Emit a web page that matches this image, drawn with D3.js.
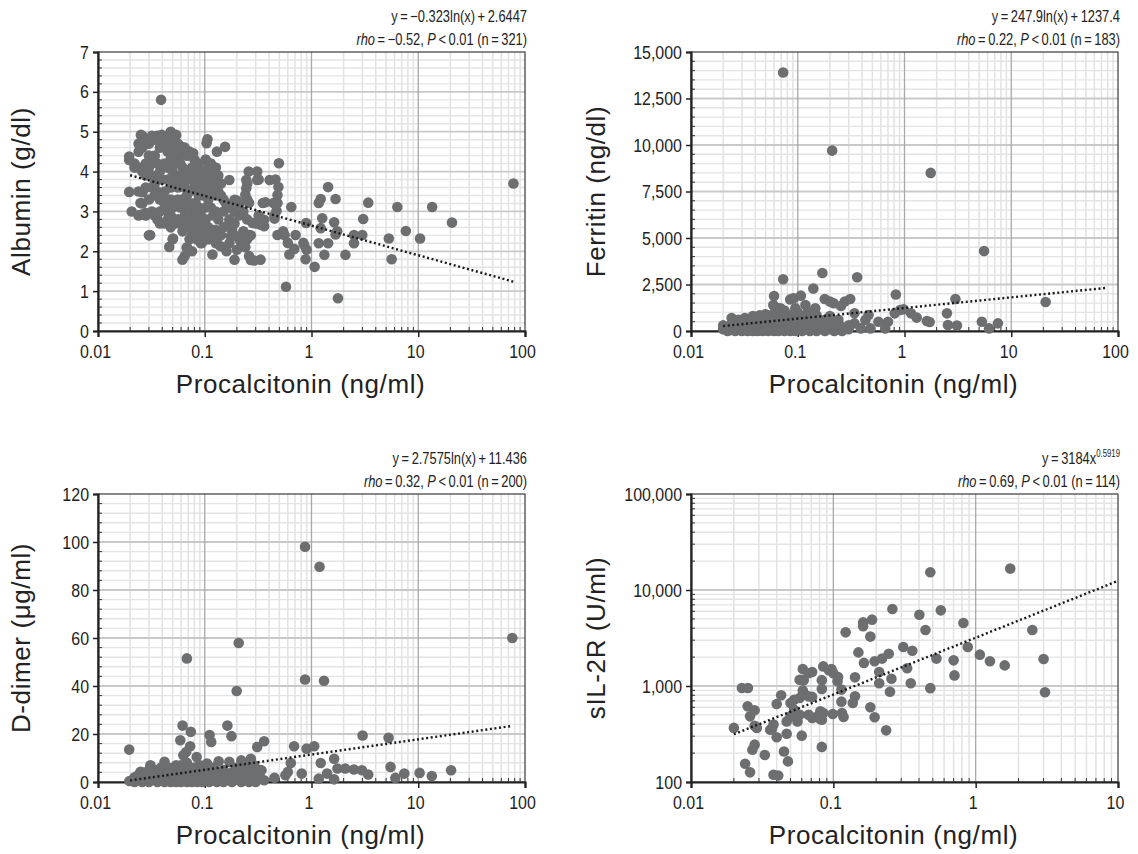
<!DOCTYPE html>
<html><head><meta charset="utf-8">
<script src="https://cdn.jsdelivr.net/npm/d3@7"></script>
<style>
body{margin:0;background:#fff;}
svg text{font-family:"Liberation Sans",Arial,sans-serif;fill:#222;}
</style></head><body>
<svg id="c" width="1138" height="854"></svg>
<script>
// ---------------- DATA ----------------
const xTicksFull = [0.01, 0.1, 1, 10, 100];
const xTicksShort = [0.01, 0.1, 1, 10];
const albuminYTicks = [0, 1, 2, 3, 4, 5, 6, 7];
const ferritinYTicks = [0, 2500, 5000, 7500, 10000, 12500, 15000];
const ddimerYTicks = [0, 20, 40, 60, 80, 100, 120];
const sil2rYTicks = [100, 1000, 10000, 100000];

const albuminPoints = [
[0.039,5.8],[78,3.7],[20.7,2.72],[13.5,3.11],[10.4,2.32],[7.65,2.51],[6.37,3.11],[5.63,1.8],[5.3,2.32],[3.4,3.22],
[3.05,2.81],[2.99,2.41],[2.5,2.41],[2.5,2.2],[2.08,1.91],[1.77,0.82],[1.68,3.31],[1.63,2.73],[1.68,2.42],[1.43,2.2],
[1.43,3.61],[1.32,1.91],[1.26,2.83],[1.22,2.58],[1.17,2.2],[1.22,3.31],[1.17,3.21],[1.07,1.61],[0.89,2.71],[0.88,1.8],
[0.84,2.21],[0.9,2.04],[0.71,2.41],[0.69,2.06],[0.647,3.11],[0.62,1.92],[0.577,1.11],[0.6,2.21],[0.542,2.5],[0.495,4.21],
[0.49,3.61],[0.48,3.41],[0.48,3.21],[0.47,3.02],[0.48,2.41],[0.45,2.82],[0.44,3.21],[0.405,3.79],[0.36,2.79],[0.35,3.21],
[0.333,1.79],[0.31,3.79],[0.31,4.0],[0.258,4.0],[0.245,3.79],[0.245,3.58],[0.26,3.21],[0.28,2.71],[0.27,1.78],[0.26,1.88],
[0.26,2.41],[0.24,3.42],[0.33,2.67],[0.32,2.79],[0.36,2.63],[0.23,2.29],[0.22,2.21],[0.2,2.04],[0.19,1.79],[0.19,3.29],
[0.18,2.54],[0.175,2.38],[0.16,2.63],[0.157,3.21],[0.17,3.79],[0.155,4.62],[0.13,4.5],[0.118,1.92],[0.16,2.0],[0.14,2.13],
[0.13,2.33],[0.125,2.54],[0.106,4.81],[0.104,4.71],[0.0618,1.79],[0.065,1.88],[0.068,2.08],[0.076,2.0],[0.0465,2.11],[0.0505,2.32],
[0.0308,2.41],[0.0257,2.92],[0.0207,3.0],[0.0196,3.49],[0.0196,4.38],[0.0196,4.29],[0.026,3.48],[0.025,3.21],[0.028,2.96],[0.0252,4.92],
[0.039,4.68],[0.0395,4.92],[0.048,4.98],[0.054,4.92],[0.06,4.63],[0.078,4.46],[0.085,4.12],[0.088,3.62],[0.092,3.79],[0.082,3.21],
[0.081,2.79],[0.085,2.54],[0.094,2.21],[0.094,2.46],[0.34,2.72],[0.37,3.23],[0.32,3.8],[0.29,1.77],[0.25,2.3],[0.27,2.4],
[0.24,2.1],[0.2,3.27],[0.46,3.8],[0.45,2.9],[0.855,2.15],[0.56,2.4],[1.74,2.5],
[0.022,4.2],[0.022,4.1],
[0.024,4.5],[0.024,4.7],[0.024,4.1],[0.024,3.5],[0.024,2.9],
[0.026,4.9],[0.026,4.6],[0.026,4.0],[0.026,3.5],[0.026,3.2],
[0.028,4.8],[0.028,4.2],[0.028,3.9],[0.028,3.6],[0.028,2.9],
[0.03,4.7],[0.03,4.4],[0.03,4.1],[0.03,3.3],[0.03,2.4],
[0.032,4.9],[0.032,4.2],[0.032,3.9],[0.032,3.6],[0.032,3.0],
[0.034,4.8],[0.034,4.4],[0.034,3.7],[0.034,3.4],[0.034,2.9],
[0.036,4.9],[0.036,4.2],[0.036,3.9],[0.036,3.5],[0.036,2.8],
[0.038,4.6],[0.038,4.0],[0.038,3.3],[0.038,3.0],[0.038,2.7],
[0.04,4.9],[0.04,4.1],[0.04,3.8],[0.04,3.4],
[0.042,4.7],[0.042,4.2],[0.042,3.5],[0.042,3.2],[0.042,2.7],
[0.045,4.9],[0.045,4.5],[0.045,4.1],[0.045,3.8],[0.045,3.0],[0.045,2.8],
[0.048,5.0],[0.048,4.6],[0.048,4.3],[0.048,3.6],[0.048,3.3],[0.048,2.9],[0.048,2.6],
[0.05,4.8],[0.05,4.0],[0.05,3.7],[0.05,3.1],[0.05,2.8],[0.05,2.3],
[0.053,4.9],[0.053,4.5],[0.053,4.2],[0.053,3.8],[0.053,3.2],[0.053,2.7],
[0.056,4.7],[0.056,4.3],[0.056,3.6],[0.056,3.3],[0.056,2.8],
[0.059,4.6],[0.059,4.2],[0.059,3.9],[0.059,3.1],[0.059,2.7],
[0.062,4.5],[0.062,4.1],[0.062,3.7],[0.062,3.3],[0.062,2.5],
[0.065,4.6],[0.065,3.9],[0.065,3.6],[0.065,3.2],[0.065,2.9],
[0.068,4.4],[0.068,4.0],[0.068,3.4],[0.068,3.1],[0.068,2.8],[0.068,2.1],
[0.072,4.5],[0.072,3.8],[0.072,3.5],[0.072,3.0],[0.072,2.6],[0.072,2.3],
[0.076,4.1],[0.076,3.8],[0.076,3.2],[0.076,2.7],[0.076,2.4],
[0.08,4.3],[0.08,3.9],[0.08,3.6],[0.08,2.9],[0.08,2.6],
[0.084,4.0],[0.084,3.7],[0.084,3.0],[0.084,2.7],[0.084,2.3],
[0.088,4.2],[0.088,3.9],[0.088,3.4],[0.088,3.1],[0.088,2.4],
[0.092,3.8],[0.092,3.5],[0.092,2.9],[0.092,2.6],[0.092,2.2],
[0.097,4.0],[0.097,3.7],[0.097,3.4],[0.097,2.7],[0.097,2.3],
[0.102,4.3],[0.102,3.8],[0.102,3.1],[0.102,2.8],[0.102,2.5],
[0.108,4.1],[0.108,3.6],[0.108,3.3],[0.108,2.6],[0.108,2.3],
[0.114,4.2],[0.114,3.9],[0.114,3.5],[0.114,3.1],[0.114,2.4],
[0.12,4.0],[0.12,3.7],[0.12,2.9],[0.12,2.5],
[0.127,4.1],[0.127,3.8],[0.127,3.4],[0.127,3.0],[0.127,2.2],
[0.134,3.9],[0.134,3.5],[0.134,2.8],
[0.142,3.7],[0.142,3.4],[0.142,2.4],
[0.15,3.3],[0.15,3.0],[0.15,2.6],
[0.17,3.1],[0.17,2.8],[0.17,2.2],
[0.19,3.0],[0.19,2.7],[0.19,2.4],
[0.21,3.2],[0.21,2.9],[0.21,2.3],
[0.23,3.0],[0.23,2.5],
[0.25,3.7],[0.25,3.3],[0.25,2.8],
[0.3,2.7],[0.32,2.9],[0.34,2.75]
];

const ferritinPoints = [
[0.073,13900],[0.21,9700],[1.76,8500],[5.56,4300],[21,1560],[0.073,2780],[0.17,3120],[0.36,2890],[0.14,2280],[0.06,1880],
[0.107,1900],[0.0915,1760],[0.118,1400],[0.179,1720],[0.2,1580],[0.217,1490],[0.276,1580],[0.31,1720],[0.254,1345],[0.146,1220],
[0.059,1400],[0.069,1220],[0.095,1220],[0.34,950],[0.83,1960],[3.0,1720],[2.5,950],[2.55,320],[3.1,290],[5.3,500],
[6.2,140],[7.5,410],[1.62,540],[1.72,480],[1.15,950],[1.3,720],[0.98,1170],[0.81,950],[0.91,1130],[0.7,500],
[0.66,140],[0.57,500],[0.48,140],[0.46,860],[0.43,590],[0.39,140],[0.34,410],[0.29,140],[0.245,320],
[0.02,100],[0.02,300],[0.022,0],[0.022,200],[0.024,50],[0.024,400],[0.024,700],[0.026,0],[0.026,250],[0.026,500],
[0.028,100],[0.028,600],[0.03,0],[0.03,300],[0.032,150],[0.032,450],[0.032,700],[0.034,0],[0.034,250],
[0.036,100],[0.036,400],[0.036,650],[0.038,0],[0.038,300],[0.038,800],[0.04,150],[0.04,500],
[0.042,0],[0.042,350],[0.042,750],[0.044,100],[0.044,600],[0.044,850],[0.047,0],[0.047,250],[0.047,500],
[0.05,150],[0.05,400],[0.05,750],[0.05,900],[0.053,0],[0.053,300],[0.053,600],[0.056,100],[0.056,450],[0.056,850],
[0.06,0],[0.06,250],[0.06,700],[0.06,1350],[0.063,150],[0.063,500],[0.063,950],[0.066,0],[0.066,350],[0.066,650],[0.066,1200],
[0.07,100],[0.07,550],[0.07,850],[0.075,0],[0.075,300],[0.075,700],[0.075,1100],[0.08,150],[0.08,450],[0.08,900],
[0.085,0],[0.085,350],[0.085,650],[0.085,1700],[0.09,100],[0.09,500],[0.09,800],[0.095,0],[0.095,250],[0.095,600],
[0.1,150],[0.1,450],[0.1,750],[0.1,1000],[0.11,0],[0.11,300],[0.11,600],[0.12,100],[0.12,400],[0.12,900],
[0.13,0],[0.13,250],[0.13,550],[0.13,1000],[0.14,150],[0.14,700],[0.15,0],[0.15,400],[0.15,850],[0.16,100],[0.16,300],
[0.18,0],[0.18,200],[0.18,600],[0.2,100],[0.2,400],[0.2,800],[0.22,0],[0.22,250],[0.24,100],[0.24,600],[0.26,0],[0.26,200],
[0.3,100],[0.3,300]
];

const ddimerPoints = [
[0.87,98],[1.19,89.7],[76,60],[0.208,57.9],[0.068,51.5],[0.87,42.7],[1.31,42.2],[0.199,37.9],[0.062,23.5],[0.163,23.5],
[0.074,20.9],[0.111,19.6],[0.178,19.1],[0.059,17.4],[0.115,16.7],[0.36,17.0],[0.31,14.6],[0.073,14.9],[0.067,12.5],[0.063,11.1],
[0.0196,13.5],[3.01,19.4],[5.27,18.4],[0.687,14.9],[0.9,13.9],[1.06,14.9],[0.64,7.9],[1.22,7.9],[1.63,9.7],[1.75,5.6],
[2.07,5.6],[2.5,5.2],[2.97,4.9],[3.4,3.1],[5.5,6.3],[6.1,1.7],[7.4,3.5],[10.3,3.8],[13.4,2.5],[20.3,4.9],
[0.81,3.5],[1.17,1.4],[1.4,3.5],[1.63,1.1],[0.57,2.8],[0.6,4.2],[0.45,1.8],[0.36,0.7],[0.34,4.9],[0.29,7.0],
[0.27,9.7],[0.22,9.0],[0.22,5.6],[0.17,8.4],[0.135,8.6],[0.105,7.7],[0.084,10.4],[0.042,8.4],[0.031,7.0],[0.025,4.2],[0.0197,0.4],
[0.022,0],[0.022,2],[0.024,1],[0.024,3],[0.026,0],[0.026,2],[0.026,4],[0.028,1],[0.028,3],[0.03,0],[0.03,2],[0.03,5],
[0.033,1],[0.033,3],[0.036,0],[0.036,2],[0.036,5],[0.039,1],[0.039,3],[0.039,6],[0.042,0],[0.042,2],[0.042,4],
[0.045,1],[0.045,3],[0.045,6],[0.048,0],[0.048,2],[0.048,5],[0.051,1],[0.051,3],[0.051,6],[0.054,0],[0.054,2],[0.054,4],[0.054,7],
[0.057,1],[0.057,3],[0.057,5],[0.06,0],[0.06,2],[0.06,4],[0.06,7],[0.064,1],[0.064,3],[0.064,5],[0.068,0],[0.068,2],[0.068,4],[0.068,8],
[0.072,1],[0.072,3],[0.072,6],[0.076,0],[0.076,2],[0.076,4],[0.08,1],[0.08,3],[0.08,6],[0.085,0],[0.085,2],[0.085,4],
[0.09,1],[0.09,3],[0.09,7],[0.095,0],[0.095,2],[0.095,5],[0.1,1],[0.1,3],[0.1,6],[0.11,0],[0.11,2],[0.11,4],
[0.12,1],[0.12,3],[0.12,6],[0.13,0],[0.13,2],[0.13,4],[0.14,1],[0.14,3],[0.15,0],[0.15,2],[0.15,5],[0.16,1],[0.16,3],
[0.18,0],[0.18,2],[0.18,4],[0.2,1],[0.2,3],[0.2,6],[0.22,0],[0.22,2],[0.24,1],[0.24,4],[0.24,7],[0.26,0],[0.26,3],[0.26,5],
[0.28,2],[0.28,6],[0.3,0],[0.3,4],[0.33,2],[0.33,5]
];

const sil2rPoints = [
[0.48,15300],[1.75,16700],[0.26,6340],[0.569,6140],[0.402,5530],[0.82,4530],[0.187,4910],[0.162,4600],[0.162,4190],[0.122,3620],
[0.444,3830],[0.182,3270],[2.5,3830],[0.31,2550],[0.359,2330],[0.88,2550],[1.07,2120],[1.26,1810],[1.6,1640],[3.0,1910],
[3.07,860],[0.15,2240],[0.245,2170],[0.22,1930],[0.195,1810],[0.164,1740],[0.53,1930],[0.70,1850],[0.71,1290],[0.33,1530],
[0.21,1400],[0.256,1190],[0.21,1070],[0.35,1070],[0.48,950],[0.25,870],[0.142,1230],[0.142,780],[0.137,665],[0.114,687],
[0.182,600],[0.195,472],[0.235,345],[0.115,524],[0.118,475],[0.099,511],[0.108,1240],[0.107,1120],[0.114,917],[0.097,1500],
[0.093,1460],[0.085,1600],[0.1,1360],[0.083,1150],[0.083,930],[0.071,1400],[0.067,1360],[0.061,1500],[0.058,1160],[0.062,1150],
[0.061,900],[0.063,810],[0.067,780],[0.071,770],[0.058,750],[0.053,720],[0.05,665],[0.043,800],[0.04,650],[0.053,567],
[0.05,483],[0.047,428],[0.056,428],[0.058,502],[0.067,502],[0.071,464],[0.076,475],[0.081,545],[0.085,524],[0.081,453],
[0.083,446],[0.06,304],[0.083,232],[0.047,318],[0.038,396],[0.037,357],[0.036,351],[0.04,292],[0.029,366],[0.028,386],
[0.026,483],[0.028,558],[0.025,614],[0.02,366],[0.0228,953],[0.0251,953],[0.028,245],[0.027,217],[0.033,191],[0.045,208],
[0.048,164],[0.024,155],[0.026,126],[0.038,119],[0.041,117]
];

// trend-line equations printed in the figure: [form, coefficient a, coefficient b, x start, x end]
const albuminFit = ["ln", -0.323, 2.6447, 0.02, 78];
const ferritinFit = ["ln", 247.9, 1237.4, 0.02, 80];
const ddimerFit = ["ln", 2.7575, 11.436, 0.02, 76];
const sil2rFit = ["pow", 3184, 0.5919, 0.02, 10];

const albuminNotes = ["y\u2009=\u2009\u22120.323ln(x)\u2009+\u20092.6447", "\u2009=\u2009\u22120.52, ", "\u2009<\u20090.01 (n\u2009=\u2009321)"];
const ferritinNotes = ["y\u2009=\u2009247.9ln(x)\u2009+\u20091237.4", "\u2009=\u20090.22, ", "\u2009<\u20090.01 (n\u2009=\u2009183)"];
const ddimerNotes = ["y\u2009=\u20092.7575ln(x)\u2009+\u200911.436", "\u2009=\u20090.32, ", "\u2009<\u20090.01 (n\u2009=\u2009200)"];
const sil2rNotes = ["y\u2009=\u20093184x", "\u2009=\u20090.69, ", "\u2009<\u20090.01 (n\u2009=\u2009114)", "0.5919"];

// ---------------- DRAW ----------------
const svg = d3.select("#c");
const panels = [
  {pts: albuminPoints, box: [98, 52, 525, 331], xt: xTicksFull, ylog: false, yt: albuminYTicks, ym: 0.2, fmt: d3.format("d"), title: "Albumin (g/dl)", fit: albuminFit, notes: albuminNotes, tx: 30},
  {pts: ferritinPoints, box: [691, 52, 1118, 331], xt: xTicksFull, ylog: false, yt: ferritinYTicks, ym: 500, fmt: d3.format(","), title: "Ferritin (ng/dl)", fit: ferritinFit, notes: ferritinNotes, tx: 605},
  {pts: ddimerPoints, box: [98, 494, 525, 782], xt: xTicksFull, ylog: false, yt: ddimerYTicks, ym: 4, fmt: d3.format("d"), title: "D-dimer (\u03bcg/ml)", fit: ddimerFit, notes: ddimerNotes, tx: 30},
  {pts: sil2rPoints, box: [691, 494, 1118, 782], xt: xTicksShort, ylog: true, yt: sil2rYTicks, ym: null, fmt: d3.format(","), title: "sIL-2R (U/ml)", fit: sil2rFit, notes: sil2rNotes, tx: 605}
];

function logMinors(ticks){
  const out = [];
  for (let i = 0; i < ticks.length - 1; i++) for (let k = 2; k <= 9; k++) out.push(ticks[i] * k);
  return out;
}
// condensed look for tick labels (no narrow font installed)
function narrow(sel, f){
  sel.each(function(){
    const w = this.getComputedTextLength();
    this.setAttribute("textLength", (w * f).toFixed(2));
    this.setAttribute("lengthAdjust", "spacingAndGlyphs");
  });
}

panels.forEach(p => {
  const [l, t, r, b] = p.box;
  const x = d3.scaleLog().domain([p.xt[0], p.xt[p.xt.length - 1]]).range([l, r]);
  const y = (p.ylog ? d3.scaleLog() : d3.scaleLinear()).domain([p.yt[0], p.yt[p.yt.length - 1]]).range([b, t]);
  const g = svg.append("g");

  const xMin = logMinors(p.xt);
  const yMin = p.ylog ? logMinors(p.yt) : d3.range(p.yt[0], p.yt[p.yt.length - 1] + 1e-9, p.ym).filter(v => !p.yt.some(tk => Math.abs(tk - v) < 1e-6));

  g.selectAll(".vmin").data(xMin).join("line").attr("x1", d => x(d)).attr("x2", d => x(d)).attr("y1", t).attr("y2", b)
    .attr("stroke", "#e2e2e2").attr("stroke-width", 1.5);
  g.selectAll(".hmin").data(yMin).join("line").attr("y1", d => y(d)).attr("y2", d => y(d)).attr("x1", l).attr("x2", r)
    .attr("stroke", "#e4e4e4").attr("stroke-width", 1.4);
  g.selectAll(".hmaj").data(p.yt.slice(1, -1)).join("line").attr("y1", d => y(d)).attr("y2", d => y(d)).attr("x1", l).attr("x2", r)
    .attr("stroke", "#c9c9c9").attr("stroke-width", 1.8);
  g.selectAll(".vmaj").data(p.xt.slice(1, -1)).join("line").attr("x1", d => x(d)).attr("x2", d => x(d)).attr("y1", t).attr("y2", b)
    .attr("stroke", "#a8a8a8").attr("stroke-width", 1.3);

  g.append("rect").attr("x", l).attr("y", t).attr("width", r - l).attr("height", b - t).attr("fill", "none").attr("stroke", "#3a3a3a").attr("stroke-width", 1.2);

  g.selectAll(".xmt").data(xMin).join("line").attr("x1", d => x(d)).attr("x2", d => x(d)).attr("y1", b).attr("y2", b - 4).attr("stroke", "#333").attr("stroke-width", 1);
  g.selectAll(".ymt").data(yMin).join("line").attr("y1", d => y(d)).attr("y2", d => y(d)).attr("x1", l).attr("x2", l + 4).attr("stroke", "#333").attr("stroke-width", 1);

  const xa = d3.axisBottom(x).tickValues(p.xt).tickFormat(d => String(d)).tickSize(6).tickPadding(8);
  const xg = g.append("g").attr("transform", `translate(0,${b})`).call(xa);
  xg.select(".domain").attr("stroke", "#222").attr("stroke-width", 2.2);
  xg.selectAll(".tick line").attr("stroke", "#222").attr("stroke-width", 1.5);
  xg.selectAll(".tick text").attr("font-size", 19).attr("font-family", null).attr("fill", "#222").attr("dx", -3);
  narrow(xg.selectAll(".tick text"), 0.84);

  const ya = d3.axisLeft(y).tickValues(p.yt).tickFormat(p.fmt).tickSize(5).tickPadding(4);
  const yg = g.append("g").attr("transform", `translate(${l},0)`).call(ya);
  yg.select(".domain").attr("stroke", "#222").attr("stroke-width", 2.2);
  yg.selectAll(".tick line").attr("stroke", "#222").attr("stroke-width", 1.5);
  yg.selectAll(".tick text").attr("font-size", 19).attr("font-family", null).attr("fill", "#222");
  narrow(yg.selectAll(".tick text"), 0.84);

  const f = p.fit;
  const fy = v => f[0] === "ln" ? f[1] * Math.log(v) + f[2] : f[1] * Math.pow(v, f[2]);

  g.selectAll(".pt").data(p.pts).join("circle").attr("cx", d => x(d[0])).attr("cy", d => y(d[1])).attr("r", 5.3)
    .attr("fill", "#6d6e70");
  g.append("line").attr("x1", x(f[3])).attr("y1", y(fy(f[3]))).attr("x2", x(f[4])).attr("y2", y(fy(f[4])))
    .attr("stroke", "#1a1a1a").attr("stroke-width", 2.4).attr("stroke-dasharray", "2,2.6");

  // annotations, horizontally condensed through a scale transform
  const n = p.notes;
  const a1 = g.append("g").attr("transform", `translate(${r + 2},${t - 30}) scale(0.78,1)`);
  const t1 = a1.append("text").attr("x", 0).attr("y", 0).attr("text-anchor", "end").attr("font-size", 16.5);
  t1.append("tspan").text(n[0]);
  if (n[3]) t1.append("tspan").attr("font-size", 10).attr("dy", -7).text(n[3]);
  const a2 = g.append("g").attr("transform", `translate(${r + 2},${t - 7}) scale(0.78,1)`);
  const t2 = a2.append("text").attr("x", 0).attr("y", 0).attr("text-anchor", "end").attr("font-size", 16.5);
  t2.append("tspan").attr("font-style", "italic").text("rho");
  t2.append("tspan").text(n[1]);
  t2.append("tspan").attr("font-style", "italic").text("P");
  t2.append("tspan").text(n[2]);

  g.append("text").attr("x", (l + r) / 2 - 11).attr("y", b + 62).attr("text-anchor", "middle")
    .attr("font-size", 26).attr("letter-spacing", 0.6).text("Procalcitonin (ng/ml)");
  g.append("text").attr("transform", `translate(${p.tx},${(t + b) / 2}) rotate(-90)`).attr("text-anchor", "middle")
    .attr("font-size", 26).attr("letter-spacing", 0.6).text(p.title);
});
</script>
</body></html>
